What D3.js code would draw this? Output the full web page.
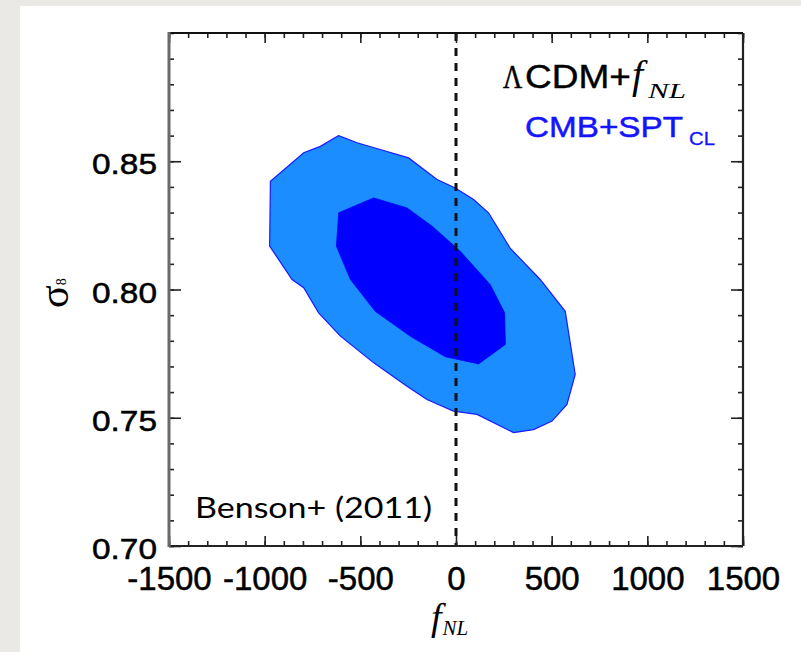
<!DOCTYPE html>
<html><head><meta charset="utf-8">
<script src="https://cdn.jsdelivr.net/npm/d3@7"></script>
<style>html,body{margin:0;padding:0;background:#ebe9e6;} svg{display:block}</style>
</head><body>
<svg id="chart" width="801" height="652"></svg>
<script>
// ---- data ----
const xTickValues = [-1500, -1000, -500, 0, 500, 1000, 1500];
const xTickLabels = ["-1500", "-1000", "-500", "0", "500", "1000", "1500"];
const yTickValues = [0.70, 0.75, 0.80, 0.85];
const yTickLabels = ["0.70", "0.75", "0.80", "0.85"];
// 95% contour (outer)
const outerFnl =    [-613, -709, -796, -970, -974, -857, -796, -718, -604, -430, -256, -152, -13, 110, 301, 405, 502, 580, 623, 571, 440, 283, 170, 92, -4, -99, -248, -396, -517];
const outerSigma8 = [0.860, 0.8558, 0.8533, 0.8422, 0.8169, 0.8039, 0.8007, 0.7909, 0.7818, 0.7714, 0.7623, 0.7571, 0.7526, 0.7513, 0.7442, 0.7454, 0.7487, 0.7552, 0.7669, 0.7915, 0.8039, 0.8161, 0.8299, 0.8351, 0.8396, 0.8429, 0.8513, 0.8546, 0.8572];
// 68% contour (inner)
const innerFnl =    [-431, -613, -625, -552, -422, -239, -56, 118, 258, 254, 179, 22, -125, -256];
const innerSigma8 = [0.8357, 0.8299, 0.8169, 0.8039, 0.7915, 0.7818, 0.7738, 0.7710, 0.7786, 0.7909, 0.8019, 0.8149, 0.8247, 0.8318];
const fiducialFnl = 0;

// ---- chart ----
const svg = d3.select("#chart");
svg.append("rect").attr("x", 20).attr("y", 6).attr("width", 781).attr("height", 646).attr("fill", "#fff");

const x = d3.scaleLinear().domain([-1500, 1500]).range([169, 743]);
const y = d3.scaleLinear().domain([0.70, 0.90]).range([546, 33]);

const line = d3.line().x(d => x(d[0])).y(d => y(d[1])).curve(d3.curveLinearClosed);
const outer = outerFnl.map((v, i) => [v, outerSigma8[i]]);
const inner = innerFnl.map((v, i) => [v, innerSigma8[i]]);

svg.append("path").attr("d", line(outer)).attr("fill", "#1c8dff").attr("stroke", "#1a1aff").attr("stroke-width", 1.2);
svg.append("path").attr("d", line(inner)).attr("fill", "#0000ff").attr("stroke", "#0000ff").attr("stroke-width", 0.8);

svg.append("line")
  .attr("x1", x(fiducialFnl)).attr("x2", x(fiducialFnl))
  .attr("y1", y(0.90)).attr("y2", y(0.70))
  .attr("stroke", "#111").attr("stroke-width", 3).attr("stroke-dasharray", "8,7");

// axes
const xMinor = x.ticks(30);
const yMinor = y.ticks(20);
function styleAxis(g) {
  g.select(".domain").remove();
  g.selectAll(".tick line").attr("stroke", "#222").attr("stroke-width", 1.6);
}
const fmtX = d => xTickLabels[xTickValues.indexOf(d)];
const fmtY = d => yTickLabels[yTickValues.findIndex(v => Math.abs(v - d) < 1e-9)];
const sans = "'Liberation Sans', Arial, sans-serif";
const serif = "'Liberation Serif', 'Times New Roman', serif";

// minor ticks
svg.append("g").attr("transform", `translate(0,${y(0.70)})`).call(d3.axisBottom(x).tickValues(xMinor).tickSize(-5).tickFormat("")).call(styleAxis);
svg.append("g").attr("transform", `translate(0,${y(0.90)})`).call(d3.axisTop(x).tickValues(xMinor).tickSize(-5).tickFormat("")).call(styleAxis);
svg.append("g").attr("transform", `translate(${x(-1500)},0)`).call(d3.axisLeft(y).tickValues(yMinor).tickSize(-5).tickFormat("")).call(styleAxis);
svg.append("g").attr("transform", `translate(${x(1500)},0)`).call(d3.axisRight(y).tickValues(yMinor).tickSize(-5).tickFormat("")).call(styleAxis);
// major ticks
const gx = svg.append("g").attr("transform", `translate(0,${y(0.70)})`).call(d3.axisBottom(x).tickValues(xTickValues).tickSize(-10).tickFormat(fmtX)).call(styleAxis);
gx.selectAll(".tick text").attr("y", 44).attr("dy", 0).attr("fill", "#000")
  .attr("stroke", "#000").attr("stroke-width", 0.5)
  .style("font-family", sans).style("font-size", "33px");
svg.append("g").attr("transform", `translate(0,${y(0.90)})`).call(d3.axisTop(x).tickValues(xTickValues).tickSize(-10).tickFormat("")).call(styleAxis);
const gy = svg.append("g").attr("transform", `translate(${x(-1500)},0)`).call(d3.axisLeft(y).tickValues(yTickValues).tickSize(-12).tickFormat(fmtY)).call(styleAxis);
gy.selectAll(".tick text").attr("x", -12).attr("dy", 0).attr("y", 12.5).attr("fill", "#000")
  .attr("stroke", "#000").attr("stroke-width", 0.5)
  .attr("textLength", 65).attr("lengthAdjust", "spacingAndGlyphs")
  .style("font-family", sans).style("font-size", "29px");
svg.append("g").attr("transform", `translate(${x(1500)},0)`).call(d3.axisRight(y).tickValues(yTickValues).tickSize(-12).tickFormat("")).call(styleAxis);

// frame
svg.append("line").attr("x1", x(-1500)).attr("x2", x(1500)).attr("y1", y(0.90)).attr("y2", y(0.90)).attr("stroke", "#111").attr("stroke-width", 2.2);
svg.append("line").attr("x1", x(-1500)).attr("x2", x(1500)).attr("y1", y(0.70)).attr("y2", y(0.70)).attr("stroke", "#222").attr("stroke-width", 2.2);
svg.append("line").attr("x1", x(1500)).attr("x2", x(1500)).attr("y1", y(0.90)).attr("y2", y(0.70)).attr("stroke", "#222").attr("stroke-width", 2.2);
svg.append("line").attr("x1", x(-1500)).attr("x2", x(-1500)).attr("y1", y(0.90) - 1).attr("y2", y(0.70) + 1).attr("stroke", "#6a6a6a").attr("stroke-width", 3);

// axis titles
const ylab = svg.append("text").attr("transform", "translate(68,308) rotate(-90)")
  .style("font-family", serif).attr("fill", "#000");
ylab.append("tspan").style("font-size", "42px").text("σ");
ylab.append("tspan").style("font-size", "14px").attr("dy", -2).text("8");

const xlab = svg.append("text").attr("x", 431).attr("y", 630).style("font-family", serif).style("font-style", "italic").attr("fill", "#000");
xlab.append("tspan").style("font-size", "38px").text("f");
xlab.append("tspan").style("font-size", "21px").attr("dy", 5).attr("dx", 1).text("NL");

// legend line 1
svg.append("text").attr("transform", "translate(503,88) scale(0.78,1)")
  .style("font-family", serif).style("font-size", "34px")
  .attr("stroke", "#000").attr("stroke-width", 0.5).text("Λ");
const leg1 = svg.append("text").attr("x", 525).attr("y", 88).attr("fill", "#000");
leg1.append("tspan").attr("x", 525).style("font-family", sans).style("font-size", "33px")
  .attr("stroke", "#000").attr("stroke-width", 0.4)
  .attr("textLength", 106).attr("lengthAdjust", "spacingAndGlyphs").text("CDM+");
leg1.append("tspan").attr("x", 632).style("font-family", serif).style("font-style", "italic").style("font-size", "40px").text("f");
leg1.append("tspan").attr("x", 648).attr("dy", 10).style("font-family", serif).style("font-style", "italic").style("font-size", "22px")
  .attr("textLength", 38).attr("lengthAdjust", "spacingAndGlyphs").text("NL");

// legend line 2
const leg2 = svg.append("text").attr("x", 525).attr("y", 137).attr("fill", "#1414ff").attr("stroke", "#1414ff").style("font-family", sans);
leg2.append("tspan").attr("x", 525).style("font-size", "30px").attr("stroke-width", 0.5)
  .attr("textLength", 158).attr("lengthAdjust", "spacingAndGlyphs").text("CMB+SPT");
leg2.append("tspan").attr("x", 689).attr("dy", 8).style("font-size", "19px").attr("stroke-width", 0.3)
  .attr("textLength", 26).attr("lengthAdjust", "spacingAndGlyphs").text("CL");

// annotation
svg.append("text").attr("x", 195).attr("y", 518).style("font-family", "Lato, 'Open Sans', sans-serif").style("font-size", "28px").attr("fill", "#000")
  .attr("textLength", 237).attr("lengthAdjust", "spacingAndGlyphs").text("Benson+ (2011)");
</script>
</body></html>
